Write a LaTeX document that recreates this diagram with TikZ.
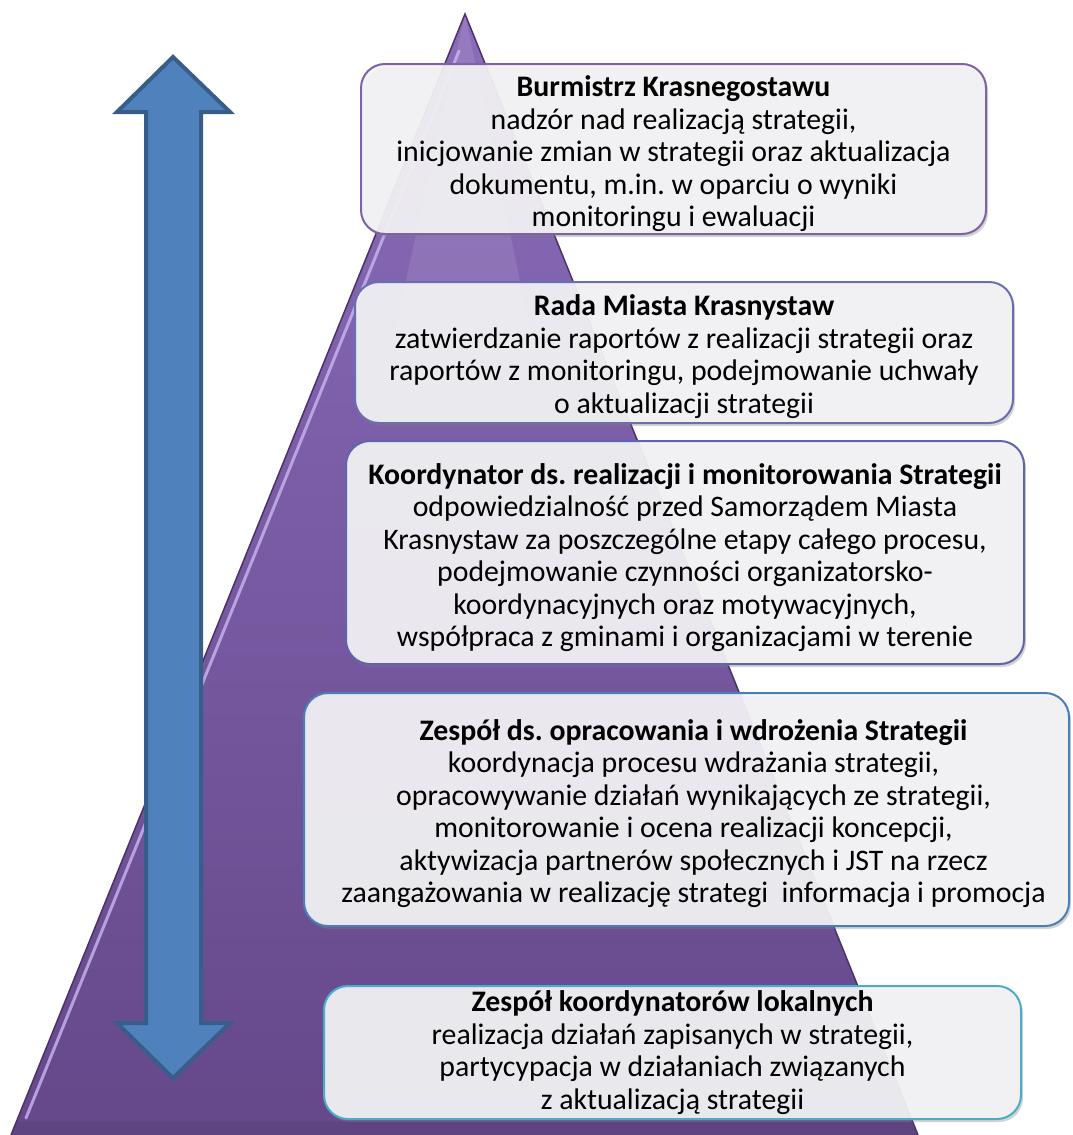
\documentclass[tikz,border=0pt]{standalone}
\usepackage{fontspec}
\setmainfont{Carlito}
\usetikzlibrary{shadows,calc}
\definecolor{pyrtop}{HTML}{8A6CBA}
\definecolor{pyrbot}{HTML}{65488A}
\definecolor{pyredge}{HTML}{4A3466}
\definecolor{pyrhi}{HTML}{C9B5F0}
\definecolor{arrfill}{HTML}{4F81BD}
\definecolor{arrline}{HTML}{385D8A}
\definecolor{boxfill}{HTML}{F4F4F6}
\definecolor{bcA}{HTML}{7E62A3}
\definecolor{bcB}{HTML}{6A6DB0}
\definecolor{bcC}{HTML}{5F64AC}
\definecolor{bcD}{HTML}{4A7EBB}
\definecolor{bcE}{HTML}{4BACC6}
\tikzset{
  infobox/.style={draw, line width=2pt, rounded corners=24pt, fill=boxfill, fill opacity=0.92, text opacity=1,
    drop shadow={opacity=0.35, shadow xshift=2pt, shadow yshift=-3pt}},
  boxtext/.style={align=center, font=\fontsize{29.8}{32.5}\selectfont, text=black, inner sep=0pt},
}
\begin{document}
\begin{tikzpicture}[x=1pt,y=-1pt]
\useasboundingbox (0,0) rectangle (1072,1135);
% pyramid
\coordinate (apex) at (465,14);
\coordinate (bl) at (11,1135);
\coordinate (br) at (918,1135);
\shade[top color=pyrtop, bottom color=pyrbot] (apex) -- (br) -- (bl) -- cycle;
\fill[white, opacity=0.1] (apex) -- (530,330) -- (395,330) -- cycle;
\fill[pyrbot!85!black, opacity=0.35] (bl) -- (br) -- ($(br)!0.012!(apex)$) -- ($(bl)!0.012!(apex)$) -- cycle;
\draw[pyredge, line width=1.5pt] (bl) -- (apex) -- (br);
\draw[pyrhi, line width=3pt, opacity=0.8, line cap=round] (459,51) -- (26,1118);
% double arrow
\draw[fill=arrfill, draw=arrline, line width=4pt, line join=miter]
  (173,57) -- (230,112) -- (201,112) -- (201,1023) -- (230,1023) -- (173,1078)
  -- (117,1023) -- (146,1023) -- (146,112) -- (117,112) -- cycle;
% boxes
\node[infobox, draw=bcA, minimum width=625pt, minimum height=170pt, anchor=north west] (b1) at (360,63) {};
\node[infobox, draw=bcB, minimum width=658pt, minimum height=141pt, anchor=north west] (b2) at (354,281) {};
\node[infobox, draw=bcC, minimum width=678pt, minimum height=223pt, anchor=north west] (b3) at (345,440) {};
\node[infobox, draw=bcD, minimum width=765pt, minimum height=233pt, anchor=north west] (b4) at (303,692) {};
\node[infobox, draw=bcE, minimum width=697pt, minimum height=133pt, anchor=north west] (b5) at (323,985) {};
% texts
\node[boxtext] (t1) at ($(b1.center)+(0,5)$) {\textbf{Burmistrz Krasnegostawu}\\nadzór nad realizacją strategii,\\inicjowanie zmian w strategii oraz aktualizacja\\dokumentu, m.in.\ w oparciu o wyniki\\monitoringu i ewaluacji};
\node[boxtext] (t2) at ($(b2.center)+(0,4)$) {\textbf{Rada Miasta Krasnystaw}\\zatwierdzanie raportów z realizacji strategii oraz\\raportów z monitoringu, podejmowanie uchwały\\o aktualizacji strategii};
\node[boxtext] (t3) at ($(b3.center)+(0,5)$) {\textbf{Koordynator ds.\ realizacji i monitorowania Strategii}\\odpowiedzialność przed Samorządem Miasta\\Krasnystaw za poszczególne etapy całego procesu,\\podejmowanie czynności organizatorsko-\\koordynacyjnych oraz motywacyjnych,\\współpraca z gminami i organizacjami w terenie};
\node[boxtext] (t4) at ($(b4.center)+(7,4)$) {\textbf{Zespół ds.\ opracowania i wdrożenia Strategii}\\koordynacja procesu wdrażania strategii,\\opracowywanie działań wynikających ze strategii,\\monitorowanie i ocena realizacji koncepcji,\\aktywizacja partnerów społecznych i JST na rzecz\\zaangażowania w realizację strategi\ \ informacja i promocja};
\node[boxtext] (t5) at ($(b5.center)+(0,0)$) {\textbf{Zespół koordynatorów lokalnych}\\realizacja działań zapisanych w strategii,\\partycypacja w działaniach związanych\\z aktualizacją strategii};
\end{tikzpicture}
\end{document}
